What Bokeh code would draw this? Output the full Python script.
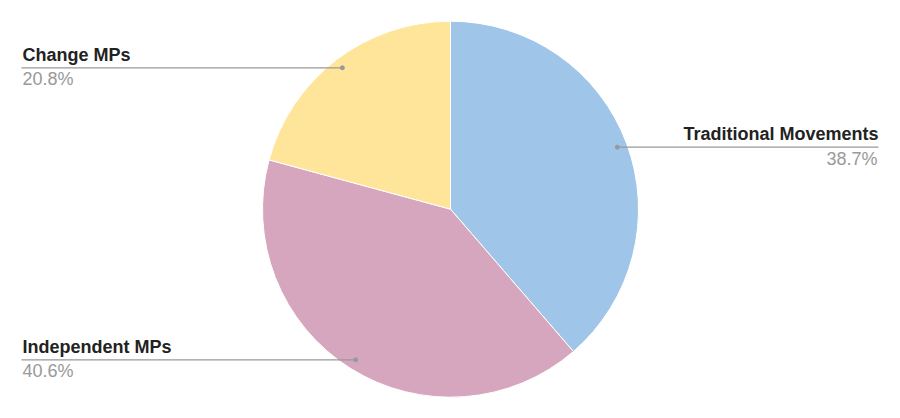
import math
from bokeh.plotting import figure
from bokeh.models import Range1d, ColumnDataSource
from bokeh.embed import file_html
from bokeh.resources import INLINE
from bokeh.core.properties import value

# ---- data ----
categories = ["Traditional Movements", "Independent MPs", "Change MPs"]
shares = [38.7, 40.6, 20.8]
colors = ["#9fc5e8", "#d5a6bd", "#ffe599"]

# ---- layout (pixel-like data coordinates) ----
W, H = 900, 418
cx, cy, R = 450, 209.3, 188
dot_r = 178
name_pos = [(878, 285, "right"), (22, 72, "left"), (22, 364, "left")]
pct_pos = [(877, 260, "right"), (22, 48, "left"), (22, 340, "left")]
line_end_x = [878, 21, 21]

total = sum(shares)
start, end, mids = [], [], []
cum = 0.0
for s in shares:
    a0 = cum / total * 2 * math.pi
    cum += s
    a1 = cum / total * 2 * math.pi
    start.append(math.pi / 2 - a1)
    end.append(math.pi / 2 - a0)
    mids.append((a0 + a1) / 2)

p = figure(width=W, height=H, output_backend="svg", toolbar_location=None,
           x_range=Range1d(0, W), y_range=Range1d(0, H), min_border=0)
p.axis.visible = False
p.grid.visible = False
p.outline_line_color = None
p.background_fill_color = "white"

src = ColumnDataSource(dict(start=start, end=end, color=colors))
p.wedge(x=cx, y=cy, radius=R, start_angle="start", end_angle="end",
        fill_color="color", line_color="white", line_width=1, source=src)

for i, cat in enumerate(categories):
    m = mids[i]
    dx = cx + dot_r * math.sin(m)
    dy = cy + dot_r * math.cos(m)
    p.line([dx, line_end_x[i]], [dy, dy], line_color="#999999", line_width=1.3)
    p.scatter([dx], [dy], size=4, color="#999999")
    nx, ny, al = name_pos[i]
    p.text([nx], [ny], text=[cat], text_align=al, text_baseline="alphabetic",
           text_font=value("Liberation Sans"), text_font_style="bold",
           text_font_size="18px", text_color="#222222")
    px_, py_, al2 = pct_pos[i]
    p.text([px_], [py_], text=[f"{shares[i]:.1f}%"], text_align=al2,
           text_baseline="alphabetic", text_font=value("Liberation Sans"),
           text_font_size="18px", text_color="#999999")

open("out.html", "w").write(file_html(p, INLINE))
